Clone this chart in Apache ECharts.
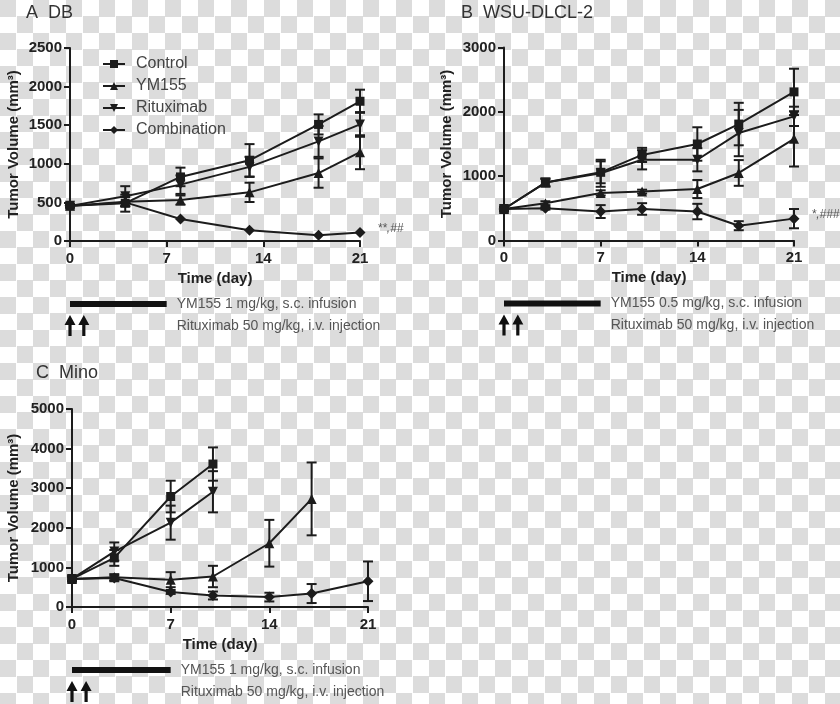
<!DOCTYPE html>
<html><head><meta charset="utf-8">
<script src="https://cdn.jsdelivr.net/npm/echarts@6/dist/echarts.min.js"></script>
<style>
html,body{margin:0;padding:0;}
body{width:840px;height:704px;background-color:#fff;background-image:repeating-conic-gradient(#ffffff 0% 25%, #dcdcdc 0% 50%);background-size:33px 33px;}
#chart{width:840px;height:704px;}
</style></head><body><div id="chart"></div>
<script>
const seriesNames = ['Control', 'YM155', 'Rituximab', 'Combination'];

// Panel A: DB
const daysA = [0, 4, 8, 13, 18, 21];
const aControl = [455, 490, 830, 1045, 1510, 1810];
const aControlErr = [20, 110, 120, 210, 130, 150];
const aYM155 = [455, 510, 530, 630, 880, 1150];
const aYM155Err = [20, 60, 60, 125, 190, 220];
const aRitux = [455, 580, 730, 960, 1290, 1510];
const aRituxErr = [20, 130, 120, 130, 200, 160];
const aCombo = [455, 500, 285, 140, 75, 110];
const aComboErr = [0, 0, 0, 0, 0, 0];

// Panel B: WSU-DLCL-2
const daysB = [0, 3, 7, 10, 14, 17, 21];
const bControl = [490, 900, 1060, 1330, 1500, 1810, 2310];
const bControlErr = [40, 60, 170, 110, 260, 330, 360];
const bYM155 = [490, 580, 740, 760, 800, 1050, 1580];
const bYM155Err = [30, 30, 40, 30, 140, 200, 430];
const bRitux = [490, 900, 1045, 1255, 1255, 1670, 1930];
const bRituxErr = [30, 60, 210, 150, 180, 360, 150];
const bCombo = [490, 500, 450, 490, 450, 230, 340];
const bComboErr = [30, 20, 100, 90, 120, 70, 150];

// Panel C: Mino
const daysC = [0, 3, 7, 10, 14, 17, 21];
const cControl = [710, 1240, 2790, 3610];
const cControlErr = [60, 200, 400, 420];
const cYM155 = [710, 750, 690, 770, 1610, 2730];
const cYM155Err = [60, 80, 190, 270, 590, 920];
const cRitux = [710, 1400, 2130, 2910];
const cRituxErr = [60, 230, 430, 520];
const cCombo = [710, 730, 380, 290, 250, 340, 650];
const cComboErr = [60, 60, 50, 100, 110, 240, 500];

const xTicks = [0, 7, 14, 21];
const yMaxA = 2500, yStepA = 500;
const yMaxB = 3000, yStepB = 1000;
const yMaxC = 5000, yStepC = 1000;

const titles = ['A  DB', 'B  WSU-DLCL-2', 'C  Mino'];
const sigLabels = ['**,##', '*,###', ''];
const ym155Texts = ['YM155 1 mg/kg, s.c. infusion', 'YM155 0.5 mg/kg, s.c. infusion', 'YM155 1 mg/kg, s.c. infusion'];
const rituxText = 'Rituximab 50 mg/kg, i.v. injection';
const ym155Days = [0, 7];
const rituxDays = [0, 1];

const panels = [
  {days: daysA, sets: [[aControl, aControlErr], [aYM155, aYM155Err], [aRitux, aRituxErr], [aCombo, aComboErr]], max: yMaxA, step: yStepA},
  {days: daysB, sets: [[bControl, bControlErr], [bYM155, bYM155Err], [bRitux, bRituxErr], [bCombo, bComboErr]], max: yMaxB, step: yStepB},
  {days: daysC, sets: [[cControl, cControlErr], [cYM155, cYM155Err], [cRitux, cRituxErr], [cCombo, cComboErr]], max: yMaxC, step: yStepC}
];

const INK = '#1c1c1c';
const FONT = '"Liberation Sans", Arial, Helvetica, sans-serif';
const symbols = ['rect', 'triangle', 'path://M0,0L10,0L5,9Z', 'diamond'];
const symbolSizes = [9, 10, 10, 11];

const grids = [
  {left: 70, top: 48, width: 290, height: 193},
  {left: 504, top: 47.5, width: 290, height: 193},
  {left: 72, top: 409, width: 296, height: 198}
];
const yNameGaps = [49, 50, 51];

const xAxes = grids.map((g, i) => ({
  gridIndex: i, type: 'value', min: 0, max: 21, interval: 7,
  name: 'Time (day)', nameLocation: 'middle', nameGap: 30,
  nameTextStyle: {fontFamily: FONT, fontWeight: 'bold', fontSize: 15, color: '#222'},
  axisLine: {show: true, onZero: false, lineStyle: {color: INK, width: 2}},
  axisTick: {show: true, length: 6, lineStyle: {color: INK, width: 2}},
  axisLabel: {fontFamily: FONT, fontWeight: 'bold', fontSize: 15, color: '#222', margin: 10,
    formatter: v => xTicks.includes(v) ? String(v) : ''},
  splitLine: {show: false}
}));
const yAxes = grids.map((g, i) => ({
  gridIndex: i, type: 'value', min: 0, max: panels[i].max, interval: panels[i].step,
  name: 'Tumor Volume (mm³)', nameLocation: 'middle', nameGap: yNameGaps[i],
  nameTextStyle: {fontFamily: FONT, fontWeight: 'bold', fontSize: 15, color: '#222'},
  axisLine: {show: true, lineStyle: {color: INK, width: 2}},
  axisTick: {show: true, length: 6, lineStyle: {color: INK, width: 2}},
  axisLabel: {fontFamily: FONT, fontWeight: 'bold', fontSize: 15, color: '#222', margin: 8,
    formatter: v => String(v)},
  splitLine: {show: false}
}));

function errRender(params, api) {
  const x = api.value(0), y = api.value(1), e = api.value(2);
  if (!e) return null;
  const top = api.coord([x, y + e]), bot = api.coord([x, y - e]);
  const w = 5;
  const st = {stroke: INK, lineWidth: 2};
  return {type: 'group', children: [
    {type: 'line', shape: {x1: top[0], y1: top[1], x2: bot[0], y2: bot[1]}, style: st},
    {type: 'line', shape: {x1: top[0] - w, y1: top[1], x2: top[0] + w, y2: top[1]}, style: st},
    {type: 'line', shape: {x1: bot[0] - w, y1: bot[1], x2: bot[0] + w, y2: bot[1]}, style: st}
  ]};
}

const series = [];
panels.forEach((p, pi) => {
  p.sets.forEach((s, si) => {
    const vals = s[0], errs = s[1];
    const data = vals.map((v, k) => [p.days[k], v]);
    const errData = vals.map((v, k) => [p.days[k], v, errs[k]]);
    series.push({
      type: 'custom', name: seriesNames[si] + ' SEM', xAxisIndex: pi, yAxisIndex: pi,
      renderItem: errRender, data: errData, encode: {x: 0, y: 1}, z: 2, silent: true
    });
    const lineData = data.map((d, k) => {
      if (si === 3 && k === data.length - 1 && sigLabels[pi]) {
        return {value: d, label: {show: true, formatter: sigLabels[pi], position: 'right', distance: 12,
          offset: [0, -4], fontStyle: 'italic', fontSize: 12, fontFamily: FONT, color: '#555'}};
      }
      return d;
    });
    series.push({
      type: 'line', name: seriesNames[si], xAxisIndex: pi, yAxisIndex: pi,
      data: lineData, symbol: symbols[si], symbolSize: symbolSizes[si],
      showAllSymbol: true,
      lineStyle: {color: INK, width: 2}, itemStyle: {color: INK},
      z: 3, animation: false
    });
  });
});

const chart = echarts.init(document.getElementById('chart'), null, {renderer: 'canvas'});
chart.setOption({
  animation: false,
  backgroundColor: 'transparent',
  title: [
    {text: titles[0], left: 21, top: -1},
    {text: titles[1], left: 456, top: -1},
    {text: titles[2], left: 31, top: 359}
  ].map(t => Object.assign(t, {textStyle: {fontFamily: FONT, fontWeight: 'normal', fontSize: 18, color: '#333'}})),
  legend: {
    data: seriesNames, orient: 'vertical', left: 97, top: 51,
    itemWidth: 22, itemHeight: 10, itemGap: 6, selectedMode: false,
    textStyle: {fontFamily: FONT, fontSize: 16, color: '#444', padding: [0, 0, 0, 6]}
  },
  grid: grids,
  xAxis: xAxes,
  yAxis: yAxes,
  series: series
});

const els = [];
panels.forEach((p, i) => {
  const a = chart.convertToPixel({gridIndex: i}, [ym155Days[0], 0]);
  const b = chart.convertToPixel({gridIndex: i}, [ym155Days[1], 0]);
  const yb = a[1] + 63;
  els.push({type: 'rect', shape: {x: a[0], y: yb - 3, width: b[0] - a[0], height: 6}, style: {fill: '#111'}});
  els.push({type: 'text', x: b[0] + 10, y: yb, style: {text: ym155Texts[i], fontSize: 14, fontFamily: FONT, fill: '#555', verticalAlign: 'middle'}});
  els.push({type: 'text', x: b[0] + 10, y: yb + 22, style: {text: rituxText, fontSize: 14, fontFamily: FONT, fill: '#555', verticalAlign: 'middle'}});
  rituxDays.forEach(d => {
    const px = chart.convertToPixel({gridIndex: i}, [d, 0])[0];
    const t = yb + 11;
    els.push({type: 'polygon', shape: {points: [[px, t], [px - 5.5, t + 10], [px - 1.6, t + 10], [px - 1.6, t + 21], [px + 1.6, t + 21], [px + 1.6, t + 10], [px + 5.5, t + 10]]}, style: {fill: '#111'}});
  });
});
chart.setOption({graphic: els});
</script>
</body></html>
